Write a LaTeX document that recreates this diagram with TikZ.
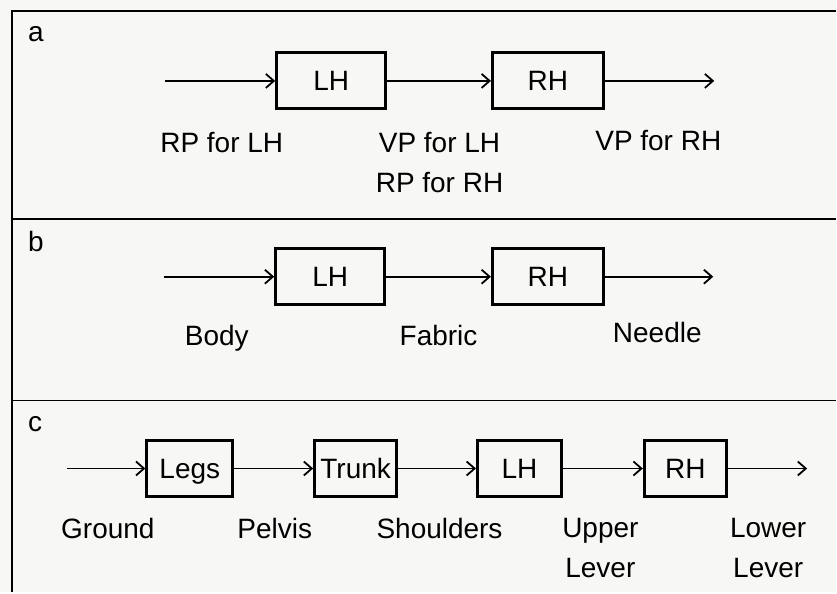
\documentclass[tikz,border=0pt]{standalone}
\usepackage{fontspec}
\setmainfont{Liberation Sans}
\usetikzlibrary{arrows.meta}
\definecolor{paper}{RGB}{247,247,245}

\begin{document}
\begin{tikzpicture}[x=1pt, y=-1pt, >={Straight Barb[length=8pt, width=14pt]},
        font=\fontsize{28}{40}\selectfont,
        box/.style={draw, line width=3pt, minimum height=56pt, inner sep=0pt,
            text height=20pt, text depth=0pt},
        lbl/.style={anchor=base, align=center},
        tag/.style={anchor=base west, inner sep=0pt},
        flow/.style={->, line width=1.8pt},
        frame/.style={line width=1.8pt}]
        \fill[paper] (0,0) rectangle (837,593);

        % panels
        \draw[frame] (837,11) -- (12,11) -- (12,593);
        \draw[frame] (12,219) -- (837,219);
        \draw[frame] (12,401) -- (837,401);

        % a
        \node (tagA) [tag] at (28,42) {a};
        \coordinate (aIn) at (165,81);
        \coordinate (aOut) at (715,81);
        \node (aLH) [box, minimum width=109pt] at (331.5,81) {LH};
        \node (aRH) [box, minimum width=111pt] at (548.5,81) {RH};
        \draw[flow] (aIn) -- (aLH.west);
        \draw[flow] (aLH.east) -- (aRH.west);
        \draw[flow] (aRH.east) -- (aOut);
        \node (aL1) [lbl] at (222,153) {RP for LH};
        \node (aL2) [lbl] at (440,193) {VP for LH\\RP for RH};
        \node (aL3) [lbl] at (659,151) {VP for RH};

        % b
        \node (tagB) [tag] at (28,252) {b};
        \coordinate (bIn) at (164,277);
        \coordinate (bOut) at (714,277);
        \node (bLH) [box, minimum width=109pt] at (330.5,277) {LH};
        \node (bRH) [box, minimum width=111pt] at (548.5,277) {RH};
        \draw[flow] (bIn) -- (bLH.west);
        \draw[flow] (bLH.east) -- (bRH.west);
        \draw[flow] (bRH.east) -- (bOut);
        \node (bL1) [lbl] at (217,346) {Body};
        \node (bL2) [lbl] at (439,346) {Fabric};
        \node (bL3) [lbl] at (658,343) {Needle};

        % c
        \node (tagC) [tag] at (28,432) {c};
        \coordinate (cIn) at (67,469);
        \coordinate (cOut) at (808,469);
        \node (legs) [box, minimum width=86pt] at (190,469) {Legs};
        \node (trunk) [box, minimum width=82pt] at (356,469) {Trunk};
        \node (cLH) [box, minimum width=84pt] at (520,469) {LH};
        \node (cRH) [box, minimum width=82pt] at (686,469) {RH};
        \draw[flow] (cIn) -- (legs.west);
        \draw[flow] (legs.east) -- (trunk.west);
        \draw[flow] (trunk.east) -- (cLH.west);
        \draw[flow] (cLH.east) -- (cRH.west);
        \draw[flow] (cRH.east) -- (cOut);
        \node (cL1) [lbl] at (108,539) {Ground};
        \node (cL2) [lbl] at (275,539) {Pelvis};
        \node (cL3) [lbl] at (440,539) {Shoulders};
        \node (cL4) [lbl] at (601,578) {Upper\\Lever};
        \node (cL5) [lbl] at (769,578) {Lower\\Lever};
\end{tikzpicture}
\end{document}
